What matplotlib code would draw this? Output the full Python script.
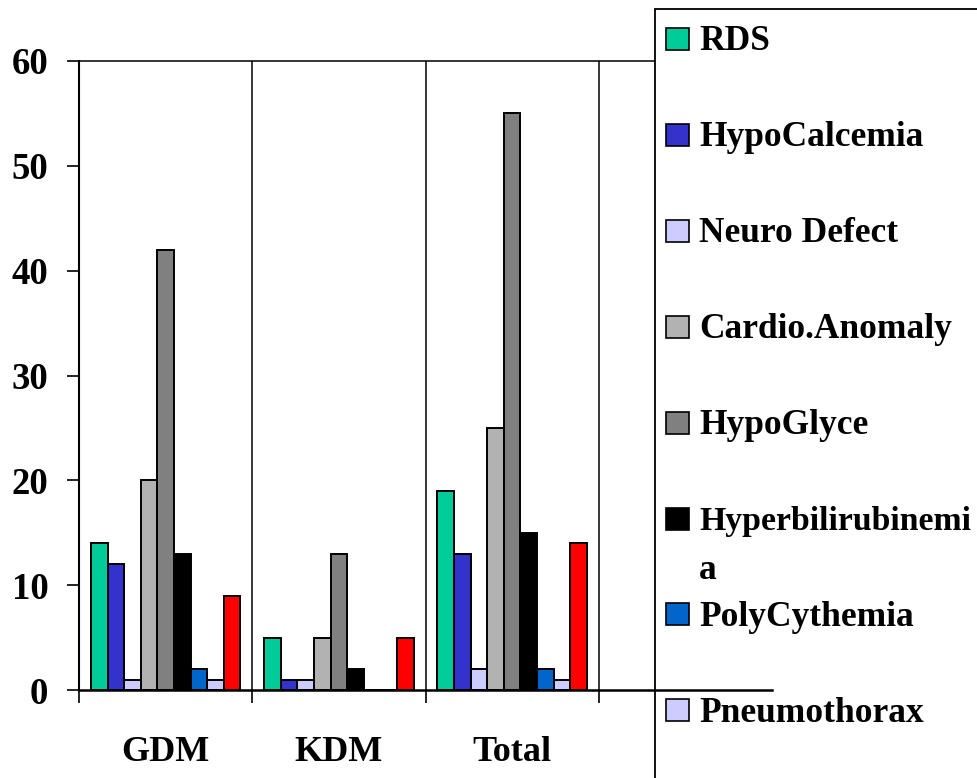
import matplotlib
matplotlib.use("Agg")
import matplotlib.pyplot as plt
from matplotlib.patches import Rectangle
import numpy as np

plt.rcParams['font.family'] = ['Liberation Serif', 'DejaVu Serif']
plt.rcParams['font.weight'] = 'bold'

# data
groups = ["GDM", "KDM", "Total"]
series = ["RDS", "HypoCalcemia", "Neuro Defect", "Cardio.Anomaly", "HypoGlyce",
          "Hyperbilirubinemi\na", "PolyCythemia", "Pneumothorax", "Other"]
colors = ["#00CC99", "#3333CC", "#CCCCFF", "#B2B2B2", "#808080",
          "#000000", "#0066CC", "#CCCCFF", "#FF0000"]
values = [
    [14, 5, 19],   # RDS
    [12, 1, 13],   # HypoCalcemia
    [1, 1, 2],     # Neuro Defect
    [20, 5, 25],   # Cardio.Anomaly
    [42, 13, 55],  # HypoGlyce
    [13, 2, 15],   # Hyperbilirubinemia
    [2, 0, 2],     # PolyCythemia
    [1, 0, 1],     # Pneumothorax
    [9, 5, 14],    # red series (its legend entry falls off the picture)
]
shown_in_legend = 8

W, H = 977, 778
fig = plt.figure(figsize=(W / 100, H / 100), dpi=100)
ax = fig.add_axes([79 / W, 1 - 690 / H, (772 - 79) / W, (690 - 61) / H])

x = np.arange(len(groups))
n = len(series)
bw = 0.862 / n
for i in range(n):
    xs = x - 0.862 / 2 + bw * (i + 0.5)
    ax.bar(xs, values[i], width=bw, color=colors[i], edgecolor="black",
           linewidth=1.4, zorder=2)

ax.set_xlim(-0.5, 3.5)
ax.set_ylim(0, 60)

# category separators
for b in [0.5, 1.5, 2.5]:
    ax.axvline(b, color="black", linewidth=1.1, zorder=1)

ax.set_yticks(range(0, 61, 10))
ax.tick_params(axis="y", length=9, width=1.2, pad=13, labelsize=26.5)
ax.set_xticks([-0.5, 0.5, 1.5, 2.5, 3.5])
ax.set_xticklabels([])
ax.tick_params(axis="x", which="major", length=9, width=1.2)
ax.set_xticks(x, minor=True)
ax.set_xticklabels(groups, minor=True)
ax.tick_params(axis="x", which="minor", length=0, pad=33, labelsize=26)
for lab in ax.get_yticklabels() + ax.get_xticklabels(minor=True):
    lab.set_fontweight("bold")

ax.spines["right"].set_visible(False)
ax.spines["top"].set_linewidth(1.1)
ax.spines["top"].set_zorder(2)
ax.spines["left"].set_linewidth(1.5)
ax.spines["bottom"].set_linewidth(1.8)
ax.spines["bottom"].set_zorder(3)

# legend panel, running off the figure edge like the original
box = Rectangle((655 / W, -0.1), 0.5, 1 - 9 / H + 0.1, transform=fig.transFigure,
                facecolor="white", edgecolor="black", linewidth=1.3,
                clip_on=False, zorder=2.6)
ax.add_patch(box)

for i in range(shown_in_legend):
    cy = 39 + 95.9 * i
    fig.patches.append(Rectangle((666 / W, 1 - (cy + 11) / H), 23 / W, 22 / H,
                                 transform=fig.transFigure, facecolor=colors[i],
                                 edgecolor="black", linewidth=1.2))
    for k, line in enumerate(series[i].split("\n")):
        fs = 24.3 if len(line) > 15 else 25.5
        fig.text(699 / W, 1 - (cy + 11.5 + 49 * k) / H, line, fontsize=fs,
                 fontweight="bold", va="baseline", ha="left")

fig.savefig("out.png", dpi=100)
